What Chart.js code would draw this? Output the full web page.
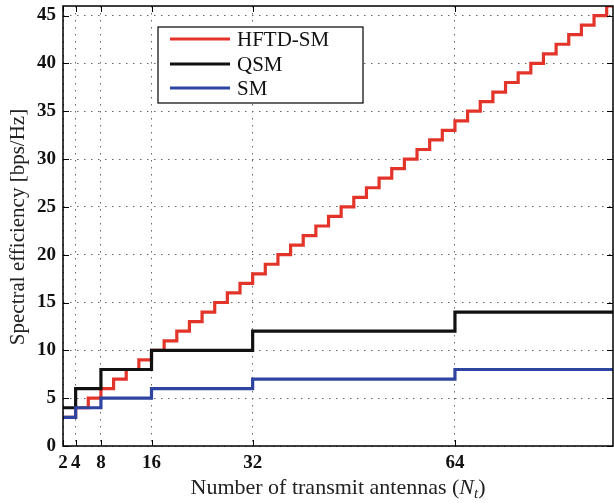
<!DOCTYPE html>
<html>
<head>
<meta charset="utf-8">
<script src="https://cdn.jsdelivr.net/npm/chart.js@4.4.0/dist/chart.umd.min.js"></script>
<style>
  html, body { margin: 0; padding: 0; background: #fff; }
  #wrap { width: 614px; height: 504px; }
</style>
</head>
<body>
<div id="wrap"><canvas id="chart" width="614" height="504"></canvas></div>
<script>
// Values
const hftdX = [2, 4, 6, 8, 10, 12, 14, 16, 18, 20, 22, 24, 26, 28, 30, 32, 34, 36, 38, 40, 42, 44,
  46, 48, 50, 52, 54, 56, 58, 60, 62, 64, 66, 68, 70, 72, 74, 76, 78, 80, 82, 84, 86, 88, 89];
const hftdY = [3, 4, 5, 6, 7, 8, 9, 10, 11, 12, 13, 14, 15, 16, 17, 18, 19, 20, 21, 22, 23, 24,
  25, 26, 27, 28, 29, 30, 31, 32, 33, 34, 35, 36, 37, 38, 39, 40, 41, 42, 43, 44, 45, 46, 46];
const qsmX = [2, 4, 8, 16, 32, 64, 89];
const qsmY = [4, 6, 8, 10, 12, 14, 14];
const smX = [2, 4, 8, 16, 32, 64, 89];
const smY = [3, 4, 5, 6, 7, 8, 8];
const xTicks = [2, 4, 8, 16, 32, 64];
const yTicks = [0, 5, 10, 15, 20, 25, 30, 35, 40, 45];
const seriesNames = ['HFTD-SM', 'QSM', 'SM'];

const RED = '#e3342a';
const BLACK = '#111111';
const BLUE = '#2f44a0';
const SERIF = "'Liberation Serif', 'Times New Roman', serif";

function toPoints(xs, ys) {
  return xs.map((x, i) => ({ x: x, y: ys[i] }));
}

// Box, inward ticks, legend and axis titles (MATLAB look)
const decorPlugin = {
  id: 'decor',
  afterDraw(chart) {
    const ctx = chart.ctx;
    const a = chart.chartArea;
    const xs = chart.scales.x;
    const ys = chart.scales.y;
    ctx.save();

    // plot box
    ctx.strokeStyle = '#000';
    ctx.lineWidth = 1.5;
    ctx.strokeRect(a.left, a.top, a.right - a.left, a.bottom - a.top);

    // inward ticks
    ctx.lineWidth = 1;
    const tl = 6;
    xTicks.forEach(v => {
      const px = Math.round(xs.getPixelForValue(v)) + 0.5;
      ctx.beginPath();
      ctx.moveTo(px, a.bottom); ctx.lineTo(px, a.bottom - tl);
      ctx.moveTo(px, a.top); ctx.lineTo(px, a.top + tl);
      ctx.stroke();
    });
    yTicks.forEach(v => {
      const py = Math.round(ys.getPixelForValue(v)) + 0.5;
      ctx.beginPath();
      ctx.moveTo(a.left, py); ctx.lineTo(a.left + tl, py);
      ctx.moveTo(a.right, py); ctx.lineTo(a.right - tl, py);
      ctx.stroke();
    });

    // legend
    const lx = 158, ly = 27, lw = 205, lh = 76;
    ctx.fillStyle = '#fff';
    ctx.fillRect(lx, ly, lw, lh);
    ctx.strokeStyle = '#000';
    ctx.lineWidth = 1.2;
    ctx.strokeRect(lx, ly, lw, lh);
    const rows = [39, 64, 88];
    chart.data.datasets.forEach((ds, i) => {
      ctx.strokeStyle = ds.borderColor;
      ctx.lineWidth = 3;
      ctx.beginPath();
      ctx.moveTo(170, rows[i]);
      ctx.lineTo(230, rows[i]);
      ctx.stroke();
      ctx.fillStyle = '#111';
      ctx.font = '21px ' + SERIF;
      ctx.textAlign = 'left';
      ctx.textBaseline = 'middle';
      ctx.fillText(ds.label, 237, rows[i] + 1);
    });

    // x axis title with italic N and subscript t
    ctx.fillStyle = '#222';
    ctx.textBaseline = 'alphabetic';
    const base = 494;
    const parts = [
      { t: 'Number of transmit antennas (', f: '22px ' + SERIF, dy: 0 },
      { t: 'N', f: 'italic 22px ' + SERIF, dy: 0 },
      { t: 't', f: 'italic 15px ' + SERIF, dy: 4 },
      { t: ')', f: '22px ' + SERIF, dy: 0 }
    ];
    let total = 0;
    parts.forEach(p => { ctx.font = p.f; total += ctx.measureText(p.t).width; });
    let cx = (a.left + a.right) / 2 - total / 2;
    ctx.textAlign = 'left';
    parts.forEach(p => {
      ctx.font = p.f;
      ctx.fillText(p.t, cx, base + p.dy);
      cx += ctx.measureText(p.t).width;
    });

    // y axis title
    ctx.save();
    ctx.translate(18, (a.top + a.bottom) / 2 + 1);
    ctx.rotate(-Math.PI / 2);
    ctx.font = '21px ' + SERIF;
    ctx.textAlign = 'center';
    ctx.textBaseline = 'middle';
    ctx.fillText('Spectral efficiency [bps/Hz]', 0, 0);
    ctx.restore();

    ctx.restore();
  }
};

const datasets = [
  { label: seriesNames[0], data: toPoints(hftdX, hftdY), borderColor: RED },
  { label: seriesNames[1], data: toPoints(qsmX, qsmY), borderColor: BLACK },
  { label: seriesNames[2], data: toPoints(smX, smY), borderColor: BLUE }
].map(d => Object.assign(d, {
  stepped: 'before',
  borderWidth: 3.2,
  pointRadius: 0,
  fill: false,
  borderCapStyle: 'butt',
  borderJoinStyle: 'miter'
}));

// draw red first so black and blue sit on top of it
datasets.forEach((d, i) => { d.order = 3 - i; });

new Chart(document.getElementById('chart'), {
  type: 'line',
  data: { datasets: datasets },
  options: {
    responsive: false,
    animation: false,
    layout: { padding: { left: 0, right: 1, top: 6, bottom: 0 } },
    plugins: {
      legend: { display: false },
      tooltip: { enabled: false }
    },
    scales: {
      x: {
        type: 'linear',
        min: 2,
        max: 89,
        afterBuildTicks: s => { s.ticks = xTicks.map(v => ({ value: v })); },
        afterFit: s => { s.height = 58; s.paddingLeft = 0; s.paddingRight = 0; },
        border: { display: false, dash: [1.5, 5.5] },
        grid: {
          color: '#666',
          lineWidth: 1,
          drawTicks: false
        },
        ticks: {
          autoSkip: false,
          maxRotation: 0,
          padding: 6,
          color: '#111',
          font: { family: SERIF, size: 19, weight: 'bold' }
        }
      },
      y: {
        min: 0,
        max: 46,
        afterBuildTicks: s => { s.ticks = yTicks.map(v => ({ value: v })); },
        afterFit: s => { s.width = 63; s.paddingTop = 0; s.paddingBottom = 0; },
        border: { display: false, dash: [1.5, 5.5] },
        grid: {
          color: '#666',
          lineWidth: 1,
          drawTicks: false
        },
        ticks: {
          padding: 7,
          color: '#111',
          font: { family: SERIF, size: 19, weight: 'bold' }
        }
      }
    }
  },
  plugins: [decorPlugin]
});
</script>
</body>
</html>
